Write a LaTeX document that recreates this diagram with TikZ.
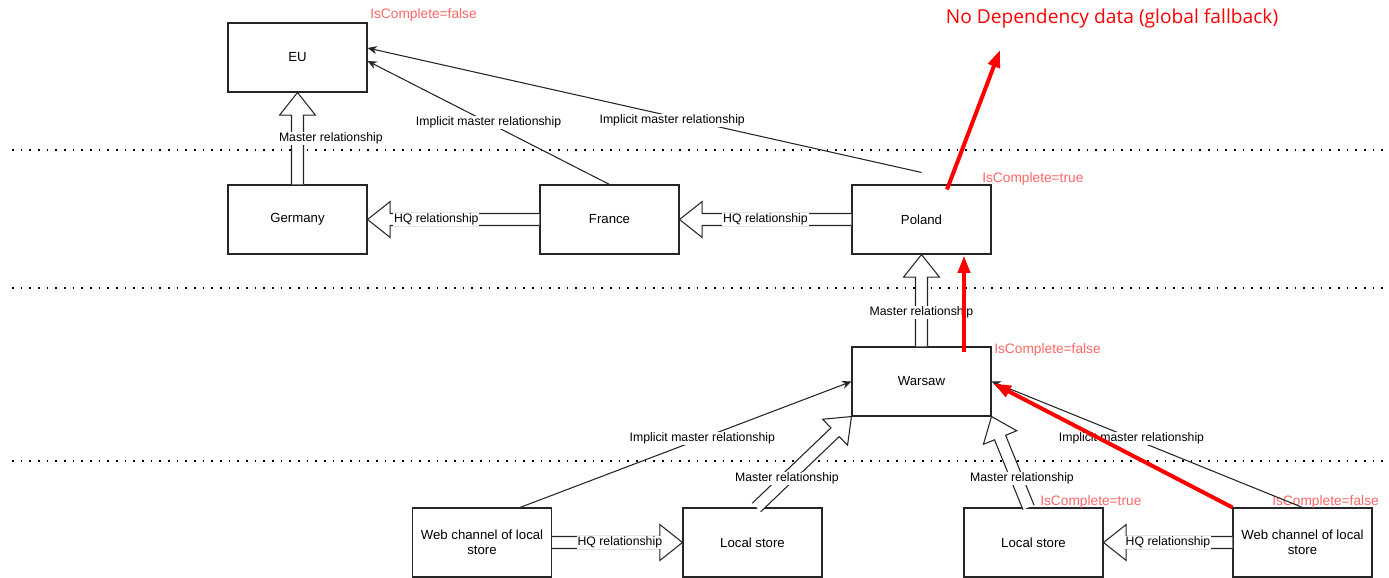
\documentclass[tikz,border=0pt]{standalone}
\usepackage{fontspec}
\setmainfont{Liberation Sans}
\newfontfamily\titlefont{Open Sans}
\usetikzlibrary{calc,arrows.meta}
\definecolor{softred}{RGB}{255,102,102}
\tikzset{
  box/.style={draw=black!85,line width=0.8pt,minimum width=104.25pt,minimum height=51.75pt,
    align=center,font=\fontsize{9.9}{11.6}\selectfont},
  lbl/.style={fill=white,inner sep=0.6pt,font=\fontsize{9.2}{11}\selectfont},
  state/.style={anchor=west,text=softred,inner sep=0pt,font=\fontsize{10.3}{12}\selectfont},
  flexline/.style={draw=black!85,fill=white,line width=0.8pt,line join=miter},
  implicit/.style={draw=black!85,line width=0.8pt,-{Stealth[length=7pt,width=6pt]}},
  fallback/.style={draw=red,line width=3pt,-{Triangle[length=13pt,width=9pt]}},
  level/.style={line width=1.2pt,dash pattern=on 1.2pt off 5.3pt}
}
% hollow block arrow: from, to, label options, label name, label text
\newcommand\flexarrow[5]{%
  \path (#1) coordinate (fa) (#2) coordinate (fb);
  \coordinate (fc) at ($(fb)!17pt!(fa)$);
  \draw[flexline] ($(fa)!4.5pt!90:(fb)$) -- ($(fc)!4.5pt!90:(fb)$) -- ($(fc)!13.5pt!90:(fb)$)
    -- (fb) -- ($(fc)!13.5pt!-90:(fb)$) -- ($(fc)!4.5pt!-90:(fb)$) -- ($(fa)!4.5pt!-90:(fb)$);
  \path (fa) -- (fb) node[lbl,#3] (#4) {#5};
}
\begin{document}
\begin{tikzpicture}[x=0.75pt,y=-0.75pt]
   \useasboundingbox (0,0) rectangle (1389,578);
   % levels
   \foreach \y in {150,288,461}
     \draw[level] (12,\y) -- (1385,\y);
   % organisations
   \node[box] (EU)      at (297.5,57.5)  {EU};
   \node[box] (Germany) at (297.5,219.5) {Germany};
   \node[box] (France)  at (609.5,219.5) {France};
   \node[box] (Poland)  at (921.5,219.5) {Poland};
   \node[box] (Warsaw)  at (921.5,381.5) {Warsaw};
   \node[box] (webL)    at (482,542.5)   {Web channel of local\\store};
   \node[box] (storeL)  at (752.5,542.5) {Local store};
   \node[box] (storeR)  at (1033.5,542.5) {Local store};
   \node[box] (webR)    at (1302.5,542.5) {Web channel of local\\store};
   % completeness flags
   \foreach \x/\y/\v/\n in
     {370/15/false/eu,
      982/179/true/pl,
      994/350/false/wa,
      1040/502/true/st,
      1272/502/false/wb}
     \node[state] (flag-\n) at (\x,\y) {IsComplete=\v};
   % master relationships
   \flexarrow{Germany.north}{EU.south}{pos=0.5,xshift=25pt}{mGe}{Master relationship}
   \flexarrow{Warsaw.north}{Poland.south}{pos=0.37}{mWa}{Master relationship}
   \flexarrow{$(storeL.north)+(4,0)$}{Warsaw.south west}{pos=0.32}{mSl}{Master relationship}
   \flexarrow{$(storeR.north)+(-5,0)$}{Warsaw.south east}{pos=0.32,xshift=4pt}{mSr}{Master relationship}
   % HQ relationships
   \flexarrow{France.west}{Germany.east}{pos=0.6}{hFr}{HQ relationship}
   \flexarrow{Poland.west}{France.east}{pos=0.5}{hPl}{HQ relationship}
   \flexarrow{webL.east}{storeL.west}{pos=0.52}{hWl}{HQ relationship}
   \flexarrow{webR.west}{storeR.east}{pos=0.5}{hWr}{HQ relationship}
   % implicit master relationships
   \draw[implicit] (France.north) -- ($(EU.east)+(0,3.5)$)
     node[lbl,pos=0.5] (iFr) {Implicit master relationship};
   \draw[implicit] ($(Poland.north)+(0,-12)$) -- ($(EU.east)+(0,-9.5)$)
     node[lbl,pos=0.45,yshift=-3pt] (iPl) {Implicit master relationship};
   \draw[implicit] ($(webL.north)+(38,0)$) -- (Warsaw.west)
     node[lbl,pos=0.55] (iWl) {Implicit master relationship};
   \draw[implicit] (webR.north) -- (Warsaw.east)
     node[lbl,pos=0.55] (iWr) {Implicit master relationship};
   % fallback path
   \node[text=red,font=\titlefont\fontsize{14.4}{17}\selectfont] (global) at (1112,18)
     {No Dependency data (global fallback)};
   \coordinate (globaltip) at (1000,50);
   \draw[fallback] (webR.north west) -- ($(Warsaw.east)+(2,2)$);
   \draw[fallback] ($(Warsaw.north)+(42.5,6)$) -- ($(Poland.south)+(42.5,1)$);
   \draw[fallback] ($(Poland.north)+(25.5,5)$) -- (globaltip);
\end{tikzpicture}
\end{document}
